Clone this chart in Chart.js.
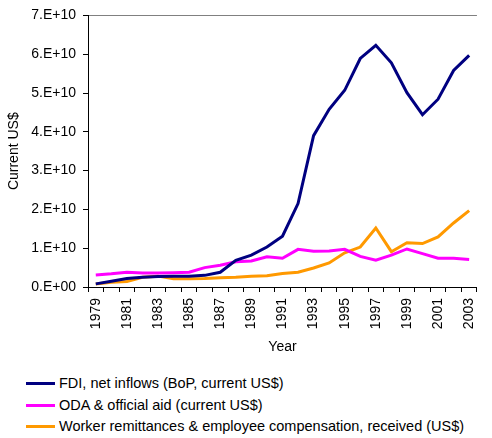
<!DOCTYPE html>
<html>
<head>
<meta charset="utf-8">
<script src="https://cdn.jsdelivr.net/npm/chart.js@4"></script>
<style>
  body { margin: 0; background: #fff; font-family: "Liberation Sans", Arial, sans-serif; }
  #wrap { position: relative; width: 492px; height: 438px; }
  #box { position: absolute; left: 0; top: 0; width: 492px; height: 356px; }
  .leg { position: absolute; left: 26px; font-size: 14.5px; color: #000; height: 18px; line-height: 18px; white-space: nowrap; }
  .leg span.ln { display: inline-block; width: 29px; height: 3px; vertical-align: middle; margin-right: 4px; position: relative; top: -1px; }
</style>
</head>
<body>
<div id="wrap">
  <div id="box"><canvas id="lineChart"></canvas></div>
  <div class="leg" style="top:374px"><span class="ln" style="background:#000080"></span>FDI, net inflows (BoP, current US$)</div>
  <div class="leg" style="top:396px"><span class="ln" style="background:#ff00ff"></span>ODA &amp; official aid (current US$)</div>
  <div class="leg" style="top:417px"><span class="ln" style="background:#ff9900"></span>Worker remittances &amp; employee compensation, received (US$)</div>
</div>
<script>
const years = ['1979','1980','1981','1982','1983','1984','1985','1986','1987','1988','1989','1990',
  '1991','1992','1993','1994','1995','1996','1997','1998','1999','2000','2001','2002','2003'];

// values in units of 1E10 US$
const fdi = [0.08, 0.15, 0.22, 0.25, 0.27, 0.28, 0.28, 0.30, 0.38, 0.69, 0.82, 1.03,
  1.31, 2.15, 3.90, 4.58, 5.07, 5.89, 6.23, 5.78, 5.01, 4.44, 4.84, 5.58, 5.97];
const oda = [0.31, 0.34, 0.38, 0.36, 0.36, 0.37, 0.38, 0.50, 0.56, 0.65, 0.67, 0.78,
  0.74, 0.97, 0.92, 0.93, 0.97, 0.79, 0.69, 0.82, 0.98, 0.86, 0.74, 0.74, 0.71];
const remit = [0.08, 0.12, 0.14, 0.25, 0.28, 0.21, 0.21, 0.22, 0.24, 0.25, 0.28, 0.29,
  0.35, 0.38, 0.49, 0.62, 0.88, 1.03, 1.52, 0.91, 1.14, 1.12, 1.29, 1.65, 1.97];

const yTicks = [0, 1, 2, 3, 4, 5, 6, 7];

const font = { family: '"Liberation Sans", Arial, sans-serif', size: 14 };

function scaled(arr) {
  return arr.map(v => v * 1e10);
}

const ctx = document.getElementById('lineChart').getContext('2d');

const data = {
  labels: years,
  datasets: [
    { label: 'FDI, net inflows (BoP, current US$)', data: scaled(fdi), borderColor: '#000080' },
    { label: 'ODA & official aid (current US$)', data: scaled(oda), borderColor: '#ff00ff' },
    { label: 'Worker remittances & employee compensation, received (US$)', data: scaled(remit), borderColor: '#ff9900' }
  ]
};

data.datasets.forEach(ds => {
  ds.borderWidth = 3;
  ds.pointRadius = 0;
  ds.fill = false;
  ds.tension = 0;
});

const config = {
  type: 'line',
  data: data,
  options: {
    responsive: true,
    maintainAspectRatio: false,
    animation: false,
    layout: { padding: { top: 14, right: 2, left: 0, bottom: 0 } },
    plugins: {
      legend: { display: false },
      tooltip: { enabled: false }
    },
    scales: {
      x: {
        offset: true,
        grid: {
          offset: true,
          drawOnChartArea: false,
          drawTicks: true,
          tickLength: 5,
          color: '#000'
        },
        border: { color: '#000', width: 1 },
        ticks: {
          autoSkip: false,
          maxRotation: 90,
          minRotation: 90,
          color: '#000',
          font: font,
          padding: 6,
          callback: function (val, i) {
            return i % 2 === 0 ? years[i] : '';
          }
        },
        title: { display: true, text: 'Year', color: '#000', font: font, padding: { top: 4, bottom: 0 } },
        afterFit: function (scale) { scale.height = 69; }
      },
      y: {
        min: 0,
        max: 7e10,
        afterBuildTicks: function (scale) {
          scale.ticks = yTicks.map(v => ({ value: v * 1e10 }));
        },
        grid: {
          drawTicks: true,
          tickLength: 5,
          tickColor: '#000',
          color: function (c) {
            return c.tick && c.tick.value === 7e10 ? '#808080' : 'rgba(0,0,0,0)';
          }
        },
        border: { color: '#000', width: 1 },
        ticks: {
          color: '#000',
          font: font,
          padding: 7,
          callback: function (v) {
            const n = Math.round(v / 1e10);
            return n === 0 ? '0.E+00' : n + '.E+10';
          }
        },
        title: { display: true, text: 'Current US$', color: '#000', font: font, padding: { top: 6, bottom: 0 } },
        afterFit: function (scale) { scale.width = 88; }
      }
    }
  }
};

const myChart = new Chart(ctx, config);
</script>
</body>
</html>
